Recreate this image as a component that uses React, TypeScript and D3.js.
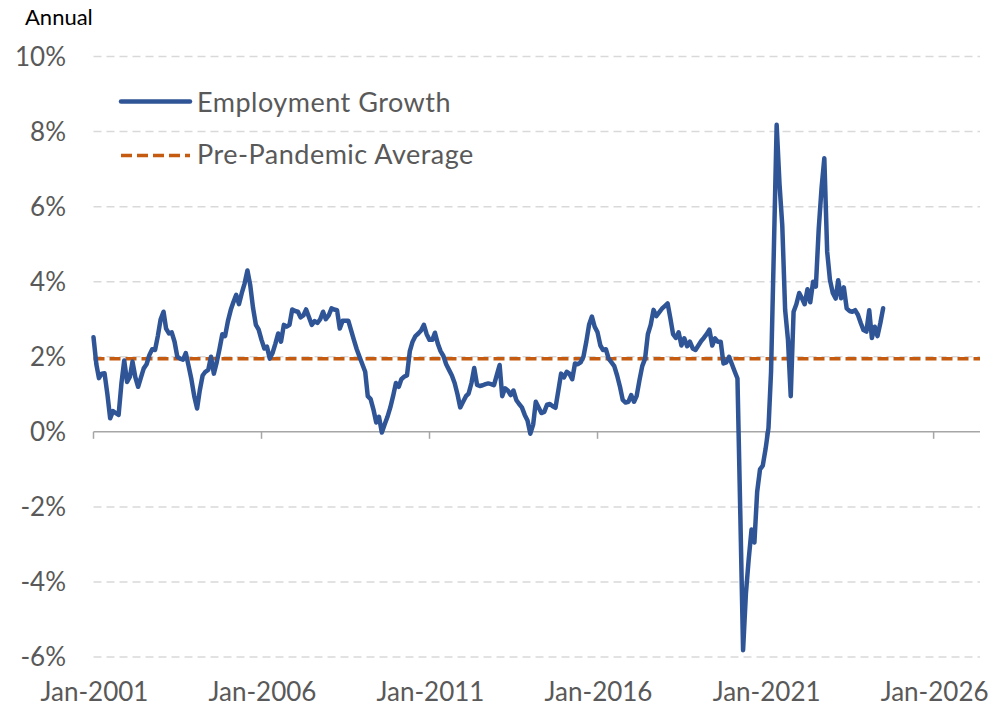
import React from 'react'
import * as d3 from 'd3'

// monthly year-over-year employment growth (%), starting Jan-2001
const growth2001to2005 = [
    2.52, 1.8, 1.43, 1.55, 1.56, 1.0, 0.36, 0.55, 0.5, 0.45, 1.3, 1.9,
    1.33, 1.47, 1.87, 1.45, 1.2, 1.45, 1.69, 1.8, 2.05, 2.2, 2.18, 2.55,
    3.0, 3.2, 2.75, 2.62, 2.65, 2.4, 2.0, 1.95, 1.92, 2.1, 1.75, 1.4,
    0.95, 0.62, 1.1, 1.5, 1.6, 1.65, 2.0, 1.55, 1.85, 2.2, 2.6, 2.55,
    2.95, 3.25, 3.45, 3.65, 3.4, 3.7, 3.95, 4.3, 3.9, 3.3, 2.85, 2.72,
]
const growth2006to2010 = [
    2.45, 2.22, 2.27, 1.95, 2.1, 2.35, 2.62, 2.4, 2.85, 2.8, 2.85, 3.26,
    3.22, 3.2, 3.05, 3.1, 3.26, 3.05, 2.85, 2.95, 2.9, 3.0, 3.2, 3.0,
    3.1, 3.29, 3.26, 3.24, 2.75, 2.96, 2.96, 2.96, 2.7, 2.45, 2.2, 2.0,
    1.8, 1.6, 0.95, 0.87, 0.6, 0.25, 0.4, -0.02, 0.2, 0.4, 0.65, 0.95,
    1.3, 1.2, 1.4, 1.47, 1.5, 2.15, 2.4, 2.55, 2.62, 2.7, 2.85, 2.6,
]
const growth2011to2015 = [
    2.45, 2.45, 2.64, 2.35, 2.15, 2.02, 1.8, 1.65, 1.5, 1.3, 1.0, 0.65,
    0.8, 0.95, 1.02, 1.3, 1.7, 1.25, 1.22, 1.24, 1.27, 1.29, 1.27, 1.24,
    1.51, 1.78, 0.95, 1.16, 1.1, 0.98, 1.1, 0.85, 0.74, 0.65, 0.45, 0.3,
    -0.05, 0.2, 0.8, 0.65, 0.5, 0.53, 0.72, 0.74, 0.68, 0.64, 1.1, 1.55,
    1.45, 1.6, 1.55, 1.4, 1.82, 1.8, 1.85, 2.0, 2.4, 2.85, 3.07, 2.8,
]
const growth2016to2020 = [
    2.65, 2.3, 2.18, 2.2, 1.95, 1.85, 1.75, 1.5, 1.2, 0.85, 0.78, 0.8,
    0.98, 0.8, 0.95, 1.38, 1.75, 1.95, 2.6, 2.85, 3.25, 3.08, 3.18, 3.28,
    3.35, 3.42, 3.05, 2.6, 2.5, 2.65, 2.3, 2.49, 2.28, 2.4, 2.22, 2.18,
    2.3, 2.42, 2.5, 2.6, 2.72, 2.3, 2.49, 2.4, 2.4, 1.82, 1.85, 2.0,
    1.8, 1.6, 1.42, -2.2, -5.82, -4.3, -3.4, -2.6, -2.95, -1.6, -1.0, -0.9,
]
const growth2021to2024 = [
    -0.45, 0.1, 1.6, 4.9, 8.18, 6.6, 5.5, 3.25, 2.45, 0.95, 3.2, 3.4,
    3.7, 3.55, 3.4, 3.8, 3.45, 4.0, 3.87, 5.4, 6.5, 7.29, 4.8, 4.05,
    3.7, 3.55, 4.04, 3.56, 3.85, 3.29, 3.22, 3.2, 3.24, 3.12, 2.9, 2.71,
    2.67, 3.24, 2.5, 2.8, 2.55, 2.9, 3.29,
]

const prePandemicAverage = 1.95
const yTicks = [-6, -4, -2, 0, 2, 4, 6, 8, 10]
const xTickYears = [2001, 2006, 2011, 2016, 2021, 2026]
const legendNames = ['Employment Growth', 'Pre-Pandemic Average']

const BLUE = '#2f5597'
const ORANGE = '#c55a11'
const FONT = 'Lato, "Open Sans", sans-serif'

type Point = { date: Date; value: number }

export default function App() {
    const width = 992
    const height = 712
    const [left, right, top, bottom] = [93.5, 980, 56.5, 657]

    const values = [
        ...growth2001to2005,
        ...growth2006to2010,
        ...growth2011to2015,
        ...growth2016to2020,
        ...growth2021to2024,
    ]
    const points: Point[] = values.map((v, i) => ({
        date: new Date(2001, i, 1),
        value: v,
    }))

    const x = d3
        .scaleTime()
        .domain([new Date(2001, 0, 1), new Date(2027, 4, 20)])
        .range([left, right])
    const y = d3.scaleLinear().domain([-6, 10]).range([bottom, top])

    const line = d3
        .line<Point>()
        .x(d => x(d.date))
        .y(d => y(d.value))

    const fmtDate = d3.timeFormat('%b-%Y')

    return (
        <div style={{ position: 'fixed', left: 0, top: 0 }}>
            <svg width={width} height={height} style={{ display: 'block' }}>
                <rect width={width} height={height} fill='white' />
                <text x={25} y={25} fontFamily={FONT} fontSize={22} fill='#000'>
                    Annual
                </text>

                {/* gridlines */}
                {yTicks
                    .filter(t => t !== 0)
                    .map(t => (
                        <line
                            key={t}
                            x1={left}
                            x2={right}
                            y1={y(t)}
                            y2={y(t)}
                            stroke='#d9d9d9'
                            strokeWidth={1.5}
                            strokeDasharray='8,5'
                        />
                    ))}

                {/* y tick labels */}
                {yTicks.map(t => (
                    <text
                        key={t}
                        x={66}
                        y={y(t) + 9}
                        textAnchor='end'
                        fontFamily={FONT}
                        fontSize={26}
                        fill='#595959'
                    >
                        {`${t}%`}
                    </text>
                ))}

                {/* zero axis */}
                <line
                    x1={left}
                    x2={right}
                    y1={y(0)}
                    y2={y(0)}
                    stroke='#a6a6a6'
                    strokeWidth={1.5}
                />
                {xTickYears.map(yr => {
                    const d = new Date(yr, 0, 1)
                    return (
                        <g key={yr}>
                            <line
                                x1={x(d)}
                                x2={x(d)}
                                y1={y(0)}
                                y2={y(0) + 7}
                                stroke='#a6a6a6'
                                strokeWidth={1.5}
                            />
                            <text
                                x={x(d) + 1}
                                y={701}
                                textAnchor='middle'
                                fontFamily={FONT}
                                fontSize={26}
                                fill='#595959'
                            >
                                {fmtDate(d)}
                            </text>
                        </g>
                    )
                })}

                {/* pre-pandemic average */}
                <line
                    x1={left}
                    x2={right}
                    y1={y(prePandemicAverage)}
                    y2={y(prePandemicAverage)}
                    stroke={ORANGE}
                    strokeWidth={3.5}
                    strokeDasharray='11,5'
                />

                {/* employment growth */}
                <path
                    d={line(points) || ''}
                    fill='none'
                    stroke={BLUE}
                    strokeWidth={4.5}
                    strokeLinejoin='round'
                    strokeLinecap='round'
                />

                {/* legend */}
                <g
                    fontFamily={FONT}
                    fontSize={27}
                    letterSpacing={0.5}
                    fill='#595959'
                >
                    <line
                        x1={121}
                        x2={190}
                        y1={101.5}
                        y2={101.5}
                        stroke={BLUE}
                        strokeWidth={4.5}
                        strokeLinecap='round'
                    />
                    <text x={197} y={111.5}>
                        {legendNames[0]}
                    </text>
                    <line
                        x1={121}
                        x2={190}
                        y1={155.5}
                        y2={155.5}
                        stroke={ORANGE}
                        strokeWidth={3.5}
                        strokeDasharray='11,5'
                    />
                    <text x={197} y={163.5}>
                        {legendNames[1]}
                    </text>
                </g>
            </svg>
        </div>
    )
}
